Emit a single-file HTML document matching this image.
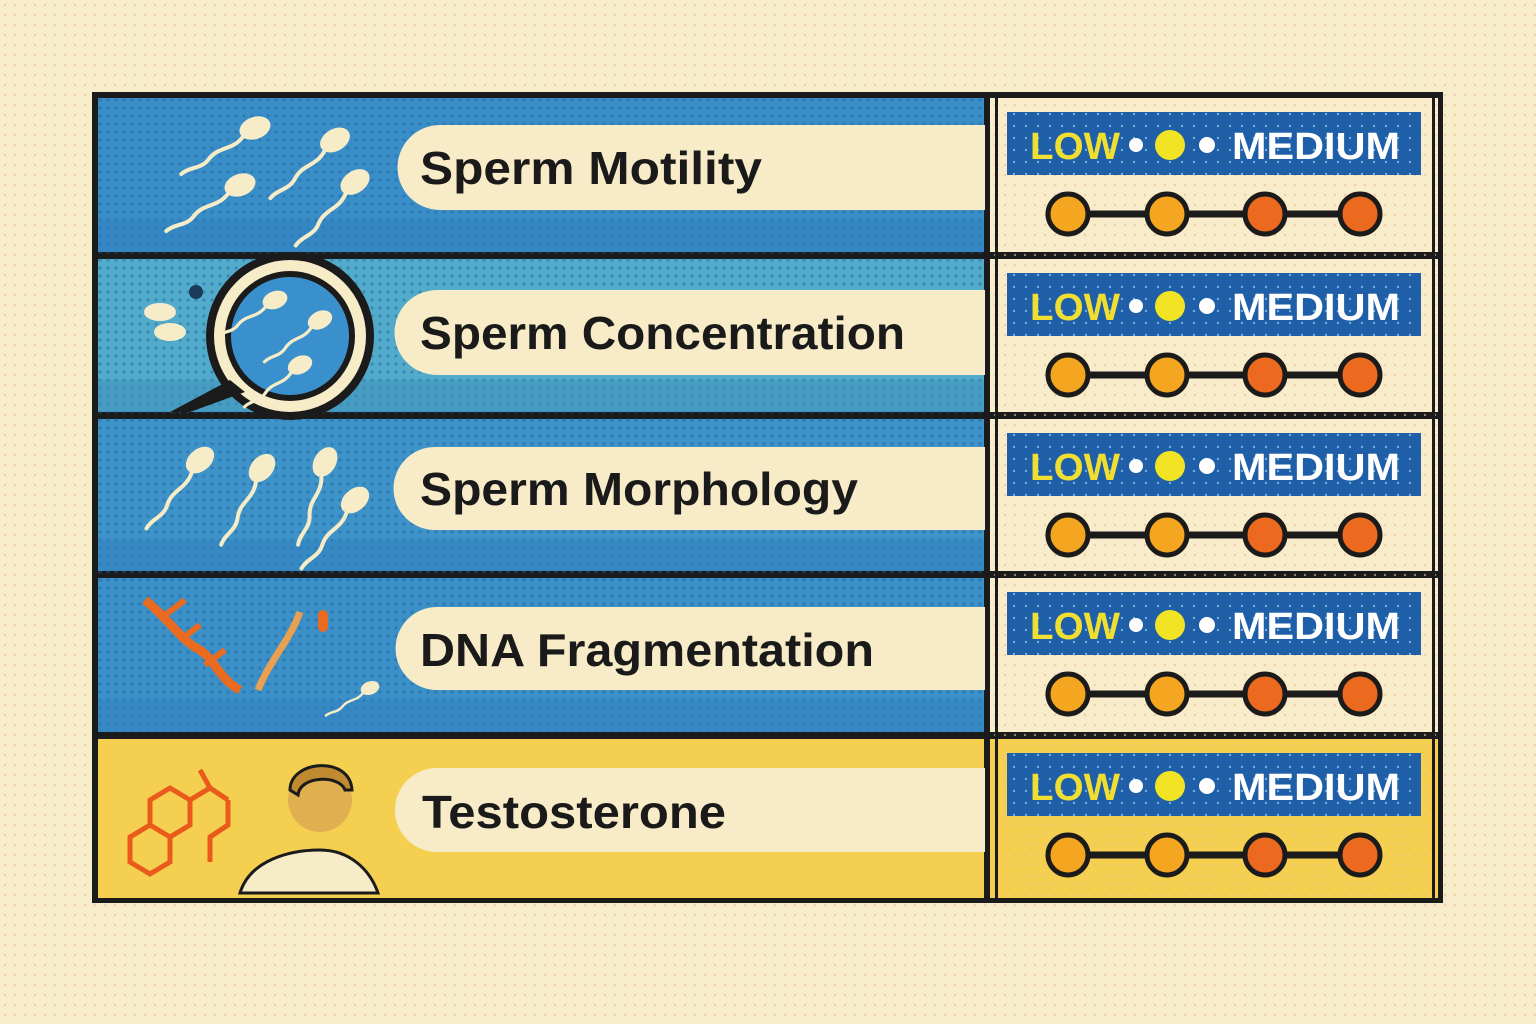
<!DOCTYPE html>
<html><head><meta charset="utf-8"><style>
html,body{margin:0;padding:0;background:#f8edca;}
svg{display:block}
</style></head><body>
<svg width="1536" height="1024" viewBox="0 0 1536 1024" xmlns="http://www.w3.org/2000/svg">
<defs>
<pattern id="bgdots" width="10" height="10" patternUnits="userSpaceOnUse"><circle cx="5" cy="5" r="1.2" fill="#e9b98a" opacity="0.6"/></pattern>
<pattern id="bdots" width="8" height="8" patternUnits="userSpaceOnUse"><circle cx="4" cy="4" r="1.6" fill="#1d5f9a" opacity="0.45"/></pattern>
<pattern id="wdots" width="12" height="12" patternUnits="userSpaceOnUse"><circle cx="6" cy="6" r="1.2" fill="#9fd0f0" opacity="0.7"/></pattern>
<pattern id="odots" width="6" height="6" patternUnits="userSpaceOnUse"><circle cx="3" cy="3" r="1.2" fill="#c24a10" opacity="0.5"/></pattern>
<g id="sp"><ellipse cx="0" cy="0" rx="16" ry="11" fill="#f6edc8"/><path d="M-14,4 C-30,14 -40,4 -55,14 C-65,20 -75,14 -85,18" stroke="#f6edc8" stroke-width="4" fill="none" stroke-linecap="round"/></g>
</defs>
<rect width="1536" height="1024" fill="#f8edca"/>
<rect width="1536" height="1024" fill="url(#bgdots)"/>

<!-- frame -->
<rect x="92" y="92" width="1351" height="811" fill="#1b1b1b"/>
<!-- left rows -->
<rect x="98" y="98" width="886" height="154" fill="#3a8ec8"/>
<rect x="98" y="259" width="886" height="153" fill="#52abcb"/>
<rect x="98" y="419" width="886" height="152" fill="#3e93c9"/>
<rect x="98" y="578" width="886" height="154" fill="#3b90c8"/>
<rect x="98" y="739" width="886" height="159" fill="#f5d050"/>
<rect x="98" y="98" width="886" height="634" fill="url(#bdots)"/>
<rect x="98" y="220" width="886" height="32" fill="#2f7fbf" opacity="0.5"/>
<rect x="98" y="380" width="886" height="32" fill="#3a8fb8" opacity="0.5"/>
<rect x="98" y="540" width="886" height="31" fill="#2f7fbf" opacity="0.5"/>
<rect x="98" y="700" width="886" height="32" fill="#2f7fbf" opacity="0.5"/>

<!-- right column -->
<g>
<rect x="990" y="98" width="448" height="154" fill="#f8eccb"/>
<rect x="990" y="259" width="448" height="153" fill="#f8eccb"/>
<rect x="990" y="419" width="448" height="152" fill="#f8eccb"/>
<rect x="990" y="578" width="448" height="154" fill="#f8eccb"/>
<rect x="990" y="739" width="448" height="159" fill="#f5d050"/>
<rect x="990" y="98" width="448" height="800" fill="url(#bgdots)"/>
<rect x="995" y="98" width="3" height="800" fill="#1b1b1b"/>
<rect x="1432" y="98" width="3" height="800" fill="#1b1b1b"/>
</g>

<!-- pills -->
<g fill="#f8ecc8">
<path d="M440,125 H985 V210 H440 A42,42 0 0 1 440,125Z"/>
<path d="M437,290 H985 V375 H437 A42,42 0 0 1 437,290Z"/>
<path d="M435,447 H985 V530 H435 A41,41 0 0 1 435,447Z"/>
<path d="M437,607 H985 V690 H437 A41,41 0 0 1 437,607Z"/>
<path d="M437,768 H985 V852 H437 A42,42 0 0 1 437,768Z"/>
</g>
<g font-family="Liberation Sans, sans-serif" font-weight="bold" font-size="46" fill="#1a1a1a">
<text x="420" y="184" textLength="342" lengthAdjust="spacingAndGlyphs">Sperm Motility</text>
<text x="420" y="349" textLength="485" lengthAdjust="spacingAndGlyphs">Sperm Concentration</text>
<text x="420" y="505" textLength="438" lengthAdjust="spacingAndGlyphs">Sperm Morphology</text>
<text x="420" y="666" textLength="454" lengthAdjust="spacingAndGlyphs">DNA Fragmentation</text>
<text x="422" y="828" textLength="304" lengthAdjust="spacingAndGlyphs">Testosterone</text>
</g>

<!-- row icons -->
<use href="#sp" transform="translate(255,128) rotate(-20)"/>
<use href="#sp" transform="translate(240,185) rotate(-20)"/>
<use href="#sp" transform="translate(335,140) rotate(-30)"/>
<use href="#sp" transform="translate(355,182) rotate(-35)"/>
<!-- magnifier -->
<circle cx="290" cy="336" r="80" fill="#f6edc8" stroke="#1b1b1b" stroke-width="8"/>
<circle cx="290" cy="336" r="62" fill="#3a90cc" stroke="#1b1b1b" stroke-width="6"/>
<path d="M230,380 L170,412 L190,412 L245,392Z" fill="#1b1b1b"/>
<use href="#sp" transform="translate(275,300) rotate(-20) scale(0.8)"/>
<use href="#sp" transform="translate(320,320) rotate(-25) scale(0.8)"/>
<use href="#sp" transform="translate(300,365) rotate(-25) scale(0.8)"/>
<ellipse cx="160" cy="312" rx="16" ry="9" fill="#f6edc8"/>
<ellipse cx="170" cy="332" rx="16" ry="9" fill="#f6edc8"/>
<circle cx="196" cy="292" r="7" fill="#1b3a5a"/>
<use href="#sp" transform="translate(200,460) rotate(-40)"/>
<use href="#sp" transform="translate(262,468) rotate(-50)"/>
<use href="#sp" transform="translate(325,462) rotate(-60)"/>
<use href="#sp" transform="translate(355,500) rotate(-40)"/>
<path d="M145,600 C170,620 180,640 200,650 C215,660 220,680 240,690" stroke="#ea6a20" stroke-width="9" fill="none"/>
<path d="M165,615 L185,600 M180,640 L200,625 M205,665 L225,650" stroke="#ea6a20" stroke-width="6"/>
<path d="M258,690 C270,660 290,640 300,612" stroke="#e9a050" stroke-width="7" fill="none"/>
<rect x="318" y="610" width="10" height="22" rx="5" fill="#ea6a20"/>
<use href="#sp" transform="translate(370,688) rotate(-20) scale(0.6)"/>
<!-- hexagons -->
<g stroke="#ea5a1a" stroke-width="5" fill="none">
<path d="M150,800 L170,788 L190,800 L190,825 L170,837 L150,825Z"/>
<path d="M150,825 L130,837 L130,862 L150,874 L170,862 L170,837"/>
<path d="M190,800 L210,788 L228,800 M228,800 L228,825 L210,837 L210,862"/>
<path d="M200,770 L210,788"/>
</g>
<circle cx="320" cy="800" r="32" fill="#e0b050"/>
<path d="M290,790 C290,760 350,755 352,790 L345,790 C340,775 300,775 298,795Z" fill="#c08a30" stroke="#1b1b1b" stroke-width="3"/>
<path d="M240,893 C250,860 290,850 320,850 C350,850 370,870 378,893Z" fill="#f6edc8" stroke="#1b1b1b" stroke-width="3"/>

<!-- right column widgets -->
<g id="w1">
<rect x="1007" y="112" width="414" height="63" fill="#1f5fa8"/>
<rect x="1007" y="112" width="414" height="63" fill="url(#wdots)"/>
<text x="1030" y="159" font-family="Liberation Sans, sans-serif" font-weight="bold" font-size="38" fill="#f0df30" textLength="90" lengthAdjust="spacingAndGlyphs">LOW</text>
<circle cx="1136" cy="145" r="7" fill="#fff"/>
<circle cx="1170" cy="145" r="15" fill="#f2e424"/>
<circle cx="1207" cy="145" r="8" fill="#fff"/>
<text x="1232" y="159" font-family="Liberation Sans, sans-serif" font-weight="bold" font-size="38" fill="#fff" textLength="168" lengthAdjust="spacingAndGlyphs">MEDIUM</text>
<line x1="1068" y1="214" x2="1360" y2="214" stroke="#1b1b1b" stroke-width="7"/>
<circle cx="1068" cy="214" r="20" fill="#f4a620" stroke="#1b1b1b" stroke-width="5"/>
<circle cx="1167" cy="214" r="20" fill="#f4a620" stroke="#1b1b1b" stroke-width="5"/>
<circle cx="1265" cy="214" r="20" fill="#ec6a20" stroke="#1b1b1b" stroke-width="5"/>
<circle cx="1360" cy="214" r="20" fill="#ec6a20" stroke="#1b1b1b" stroke-width="5"/>
</g>
<use href="#w1" y="161"/>
<use href="#w1" y="321"/>
<use href="#w1" y="480"/>
<use href="#w1" y="641"/>
</svg>
</body></html>
